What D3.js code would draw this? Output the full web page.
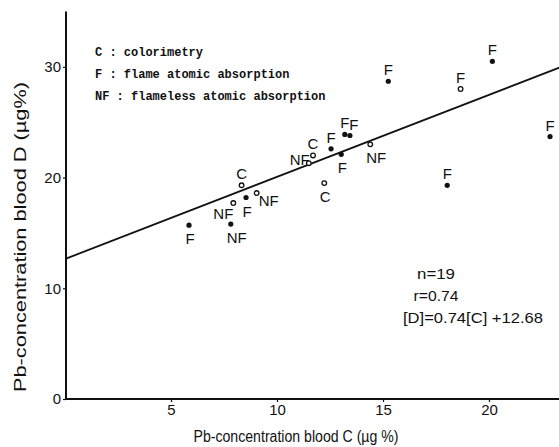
<!DOCTYPE html>
<html>
<head>
<meta charset="utf-8">
<script src="https://cdn.jsdelivr.net/npm/d3@7"></script>
<style>
  html, body { margin: 0; padding: 0; background: #fff; }
  svg { display: block; }
  text { fill: #111; }
</style>
</head>
<body>
<svg id="chart" width="559" height="447"></svg>
<script>
// Pb in blood: method C (x) vs method D (y), one point per sample
const methods = ["C","NF","F","NF","NF","F","NF","C","F","F","F","F","NF","C","F","F","F","F","F"];
const concC   = [8.33,7.94,8.54,9.04,7.82,5.85,11.5,11.7,12.55,13.2,13.44,13.03,14.4,12.23,15.25,18.66,20.16,22.88,18.03];
const concD   = [19.3,17.7,18.2,18.6,15.8,15.7,21.3,22.0,22.6,23.9,23.8,22.1,23.0,19.5,28.7,28.0,30.5,23.7,19.3];
const markers = ["open","open","filled","open","filled","filled","open","open","filled","filled","filled","filled","open","open","filled","open","filled","filled","filled"];
const labelSide = ["above","lowerLeft","below","lowerRight","belowRight","below","left","above","above","above","aboveRight","below","belowRight","below","above","above","above","above","above"];

const xTicks = [5, 10, 15, 20];
const yTicks = [0, 10, 20, 30];

const legendLines = ["C : colorimetry", "F : flame atomic absorption", "NF : flameless atomic absorption"];
const slope = 0.74, intercept = 12.68;
const statsLines = ["n=19", "r=0.74", "[D]=0.74[C] +12.68"];

const xTitle = "Pb-concentration  blood  C  (\u00b5g %)";
const yTitle = "Pb-concentration  blood  D  (\u00b5g%)";

const svg = d3.select("#chart");
const W = 559, H = 447;
const x0 = 66, y0 = 399;

const x = d3.scaleLinear().domain([0, 23.35]).range([65, 560]);
const y = d3.scaleLinear().domain([0, 35]).range([399, 11.5]);

const sans = "'Liberation Sans', Arial, sans-serif";

// axes
const xAxis = d3.axisBottom(x).tickValues(xTicks).tickSize(3).tickFormat(d3.format("d"));
const yAxis = d3.axisLeft(y).tickValues(yTicks).tickSize(3).tickFormat(d3.format("d"));

const gx = svg.append("g").attr("transform", `translate(0,${y0})`).call(xAxis);
gx.select(".domain").attr("d", `M${x0},0H${W}`).attr("stroke", "#111").attr("stroke-width", 2);
gx.selectAll(".tick line").attr("stroke", "#111").attr("stroke-width", 1.2);
gx.selectAll(".tick text").attr("font-family", sans).attr("font-size", 15).attr("fill", "#111").attr("dy", "0.5em").attr("y", 8);

const gy = svg.append("g").attr("transform", `translate(${x0},0)`).call(yAxis);
gy.select(".domain").attr("d", `M0,${y(35)}V${y0}`).attr("stroke", "#111").attr("stroke-width", 2);
gy.selectAll(".tick line").attr("stroke", "#111").attr("stroke-width", 1.2);
gy.selectAll(".tick text").attr("font-family", sans).attr("font-size", 15).attr("fill", "#111").attr("x", -5);

// axis titles
svg.append("text")
  .attr("x", 296).attr("y", 442)
  .attr("text-anchor", "middle")
  .attr("font-family", sans).attr("font-size", 16)
  .attr("textLength", 205).attr("lengthAdjust", "spacingAndGlyphs")
  .text(xTitle);

svg.append("text")
  .attr("transform", "translate(26,237) rotate(-90)")
  .attr("text-anchor", "middle")
  .attr("font-family", sans).attr("font-size", 16)
  .attr("textLength", 310).attr("lengthAdjust", "spacingAndGlyphs")
  .text(yTitle);

// regression line [D] = 0.74[C] + 12.68
const xMax = x.domain()[1];
svg.append("line")
  .attr("x1", x(0) + 1).attr("y1", y(intercept))
  .attr("x2", x(xMax)).attr("y2", y(slope * xMax + intercept))
  .attr("stroke", "#111").attr("stroke-width", 1.8);

// legend of method codes
const legend = svg.append("g").attr("font-family", "'Liberation Mono', 'Courier New', monospace")
  .attr("font-size", 12).attr("font-weight", "bold");
const legendY = [56, 78, 100];
legendLines.forEach((t, i) => {
  legend.append("text").attr("x", 95).attr("y", legendY[i]).text(t);
});

// points and method labels
const offsets = {
  above:      { dx: 0,   dy: -6, anchor: "middle" },
  aboveRight: { dx: 4,   dy: -6, anchor: "middle" },
  below:      { dx: 1,   dy: 19, anchor: "middle" },
  belowRight: { dx: 6,   dy: 19, anchor: "middle" },
  lowerLeft:  { dx: -10, dy: 16, anchor: "middle" },
  lowerRight: { dx: 12,  dy: 13, anchor: "middle" },
  left:       { dx: 1,   dy: 2,  anchor: "end" }
};

const pts = concC.map((c, i) => ({ c, d: concD[i], m: methods[i], marker: markers[i], side: labelSide[i] }));

const gp = svg.append("g");
gp.selectAll("circle").data(pts).join("circle")
  .attr("cx", d => x(d.c)).attr("cy", d => y(d.d))
  .attr("r", d => d.marker === "filled" ? 2.6 : 2.3)
  .attr("fill", d => d.marker === "filled" ? "#111" : "#fff")
  .attr("stroke", "#111").attr("stroke-width", d => d.marker === "filled" ? 0 : 1.3);

gp.selectAll("text").data(pts).join("text")
  .attr("x", d => x(d.c) + offsets[d.side].dx)
  .attr("y", d => y(d.d) + offsets[d.side].dy)
  .attr("text-anchor", d => offsets[d.side].anchor)
  .attr("font-family", sans).attr("font-size", 15)
  .text(d => d.m);

// regression statistics
const statsX = [436, 436, 473];
const statsY = [279, 301, 323];
const statsW = [38, 45, 140];
statsLines.forEach((t, i) => {
  svg.append("text").attr("x", statsX[i]).attr("y", statsY[i])
    .attr("text-anchor", "middle")
    .attr("font-family", sans).attr("font-size", 15)
    .attr("textLength", statsW[i]).attr("lengthAdjust", "spacingAndGlyphs")
    .text(t);
});
</script>
</body>
</html>
